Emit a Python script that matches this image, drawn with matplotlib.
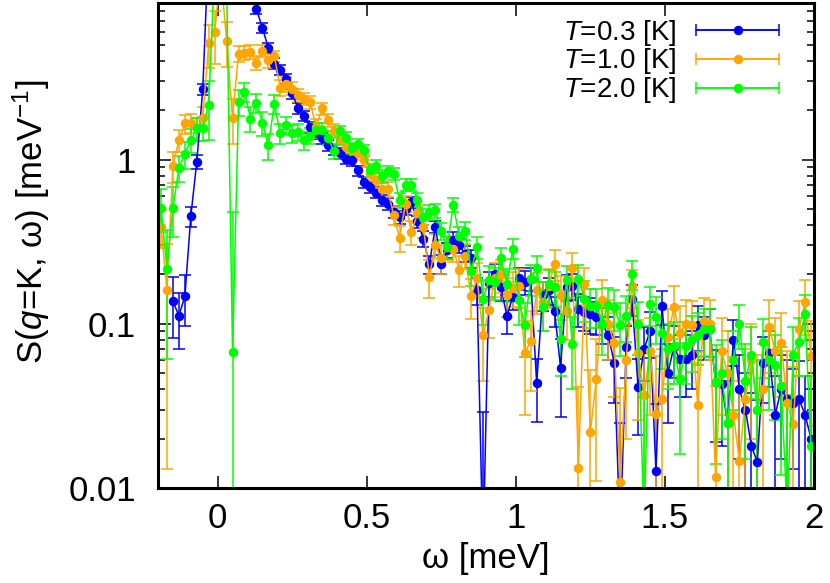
import numpy as np
import matplotlib
matplotlib.use("Agg")
import matplotlib.pyplot as plt
from matplotlib.container import ErrorbarContainer
from matplotlib.legend_handler import HandlerErrorbar
from matplotlib.ticker import FixedLocator, FixedFormatter, LogLocator, NullFormatter

plt.rcParams["font.family"] = "Liberation Sans"
plt.rcParams["mathtext.fontset"] = "custom"
plt.rcParams["mathtext.rm"] = "Liberation Sans"
plt.rcParams["mathtext.it"] = "Liberation Sans:italic"

########################################################################
# Data: S(q=K, omega) on the frequency grid -0.19, -0.17, ..., 1.99 meV

omega = np.round(np.arange(-0.19, 2.0, 0.02), 2)

s_03 = [np.nan, np.nan, 0.137, 0.112, 0.147, 0.453, 0.97, 2.68, 21, 60,
        80, 60, 40, 28, 18, 13, 8.26, 6.35, 4.79, 3.85,
        3.54, 3.12, 2.53, 2.05, 1.84, 1.58, 1.45, 1.35, 1.22, 1.14,
        1.09, 1.01, 0.99, 0.86, 0.73, 0.68, 0.63, 0.565, 0.54, 0.48,
        0.447, 0.5, 0.55, 0.42, 0.33, 0.23, 0.39, 0.232, 0.28, 0.325,
        0.3, 0.267, 0.25, 0.16, 0.004, 0.176, 0.2, 0.167, 0.112, 0.146,
        0.19, 0.18, 0.188, 0.0433, 0.15, 0.16, 0.12, 0.054, 0.167, 0.17,
        0.123, 0.118, 0.115, 0.11, 0.1, 0.085, 0.058, 0.005, 0.072, 0.142,
        0.041, 0.07, 0.09, 0.0126, 0.129, 0.05, 0.072, 0.061, 0.061, 0.065,
        0.098, 0.085, 0.093, 0.044, 0.043, 0.025, 0.08, 0.04, 0.03, 0.018,
        0.0144, 0.058, 0.066, 0.028, 0.04, 0.035, 0.033, 0.0346, 0.028, 0.02]
e_03 = [np.nan, np.nan, 0.055, 0.042, 0.05, 0.065, 0.09, 0.22, 2, 5,
        6, 5, 4, 3, 2, 1.2, 0.6, 0.45, 0.35, 0.3,
        0.25, 0.22, 0.18, 0.15, 0.13, 0.12, 0.11, 0.1, 0.09, 0.08,
        0.08, 0.07, 0.07, 0.06, 0.055, 0.05, 0.05, 0.045, 0.045, 0.04,
        0.04, 0.04, 0.04, 0.035, 0.035, 0.03, 0.035, 0.03, 0.03, 0.035,
        0.03, 0.03, 0.03, 0.03, 0.025, 0.03, 0.03, 0.03, 0.025, 0.025,
        0.03, 0.03, 0.03, 0.018, 0.03, 0.03, 0.025, 0.027, 0.03, 0.03,
        0.028, 0.028, 0.028, 0.025, 0.025, 0.025, 0.025, 0.02, 0.025, 0.03,
        0.02, 0.025, 0.028, 0.02, 0.03, 0.025, 0.025, 0.025, 0.025, 0.025,
        0.03, 0.025, 0.03, 0.025, 0.025, 0.02, 0.025, 0.025, 0.02, 0.02,
        0.02, 0.025, 0.025, 0.02, 0.025, 0.025, 0.02, 0.025, 0.02, 0.02]

s_10 = [0.39, 0.16, 0.92, 1.31, 1.66, 1.67, 1.55, 1.8, 5.1, 5.95,
        14, 5.26, 1.8, 4.43, 4.49, 4.53, 3.9, 4.6, 4.03, 4.27,
        2.75, 2.9, 2.71, 2.46, 2.35, 2.24, 1.58, 2.05, 1.74, 1.5,
        1.34, 1.2, 1.15, 1.09, 0.99, 0.82, 0.75, 0.665, 0.665, 0.46,
        0.335, 0.54, 0.36, 0.47, 0.39, 0.194, 0.3, 0.25, 0.293, 0.287,
        0.213, 0.26, 0.147, 0.19, 0.085, 0.122, 0.19, 0.2, 0.15, 0.166,
        0.17, 0.066, 0.079, 0.16, 0.135, 0.17, 0.232, 0.15, 0.12, 0.22,
        0.0132, 0.175, 0.022, 0.046, 0.14, 0.1, 0.076, 0.0108, 0.06, 0.169,
        0.066, 0.0366, 0.068, 0.0284, 0.035, 0.083, 0.126, 0.088, 0.1, 0.098,
        0.032, 0.104, 0.1, 0.0116, 0.068, 0.05, 0.028, 0.0146, 0.035, 0.06,
        0.03, 0.04, 0.095, 0.068, 0.076, 0.033, 0.0244, 0.093, 0.135, 0.064]
e_10 = [0.1, 0.147, 0.2, 0.2, 0.22, 0.22, 0.25, 0.3, 1.5, 2.1,
        4, 1.6, 0.55, 0.5, 0.45, 0.45, 0.4, 0.4, 0.4, 0.35,
        0.3, 0.3, 0.25, 0.22, 0.2, 0.2, 0.18, 0.17, 0.15, 0.14,
        0.12, 0.11, 0.1, 0.1, 0.09, 0.08, 0.08, 0.07, 0.07, 0.06,
        0.06, 0.06, 0.06, 0.06, 0.055, 0.05, 0.05, 0.05, 0.05, 0.05,
        0.045, 0.045, 0.04, 0.045, 0.04, 0.04, 0.045, 0.045, 0.04, 0.04,
        0.045, 0.038, 0.04, 0.045, 0.045, 0.045, 0.05, 0.045, 0.04, 0.05,
        0.028, 0.045, 0.03, 0.035, 0.045, 0.04, 0.04, 0.03, 0.04, 0.045,
        0.04, 0.035, 0.04, 0.035, 0.035, 0.04, 0.045, 0.04, 0.04, 0.04,
        0.035, 0.04, 0.04, 0.03, 0.04, 0.04, 0.035, 0.03, 0.035, 0.04,
        0.035, 0.035, 0.045, 0.04, 0.04, 0.035, 0.03, 0.045, 0.05, 0.04]

s_20 = [0.51, 0.216, 0.51, 0.89, 1.08, 1.31, 1.55, 1.56, 2.16, 15,
        20, 12, 0.067, 2.24, 2.58, 1.78, 2.21, 1.68, 1.22, 2.18,
        1.45, 1.62, 1.45, 1.47, 1.31, 1.4, 1.51, 1.51, 1.36, 1.13,
        1.49, 1.36, 1.17, 1.24, 1.14, 0.86, 0.91, 0.79, 0.85, 0.82,
        0.57, 0.7, 0.7, 0.57, 0.447, 0.48, 0.49, 0.367, 0.293, 0.53,
        0.345, 0.37, 0.21, 0.293, 0.142, 0.184, 0.18, 0.25, 0.175, 0.287,
        0.139, 0.098, 0.188, 0.22, 0.126, 0.174, 0.167, 0.081, 0.184, 0.075,
        0.188, 0.142, 0.129, 0.129, 0.1, 0.131, 0.126, 0.099, 0.112, 0.2,
        0.1, 0.006, 0.132, 0.11, 0.088, 0.07, 0.073, 0.046, 0.073, 0.081,
        0.086, 0.093, 0.093, 0.044, 0.05, 0.025, 0.06, 0.1, 0.045, 0.065,
        0.03, 0.077, 0.06, 0.056, 0.042, 0.007, 0.065, 0.078, 0.114, 0.018]
e_20 = [0.15, 0.155, 0.17, 0.16, 0.2, 0.22, 0.25, 0.27, 0.85, 3,
        4, 3, 0.41, 0.4, 0.35, 0.3, 0.3, 0.28, 0.22, 0.28,
        0.2, 0.2, 0.18, 0.17, 0.16, 0.15, 0.15, 0.15, 0.14, 0.12,
        0.12, 0.11, 0.1, 0.1, 0.09, 0.08, 0.08, 0.07, 0.07, 0.07,
        0.06, 0.06, 0.06, 0.055, 0.05, 0.05, 0.05, 0.045, 0.045, 0.05,
        0.045, 0.045, 0.04, 0.045, 0.044, 0.04, 0.04, 0.04, 0.04, 0.04,
        0.04, 0.035, 0.04, 0.04, 0.035, 0.04, 0.04, 0.033, 0.04, 0.035,
        0.04, 0.04, 0.035, 0.035, 0.035, 0.035, 0.035, 0.035, 0.035, 0.04,
        0.035, 0.03, 0.035, 0.035, 0.035, 0.03, 0.03, 0.03, 0.03, 0.03,
        0.03, 0.03, 0.03, 0.03, 0.03, 0.025, 0.03, 0.03, 0.03, 0.03,
        0.03, 0.03, 0.03, 0.03, 0.03, 0.03, 0.03, 0.03, 0.035, 0.03]

labels = ["$T$=0.3 [K]", "$T$=1.0 [K]", "$T$=2.0 [K]"]
colors = ["#0000ff", "#ffa500", "#00ff00"]

x_ticks = [0, 0.5, 1, 1.5, 2]
x_ticklabels = ["0", "0.5", "1", "1.5", "2"]
y_ticks = [0.01, 0.1, 1]
y_ticklabels = ["0.01", "0.1", "1"]

########################################################################
# Plot

fig = plt.figure(figsize=(8.3, 5.83), dpi=100)
ax = fig.add_axes([0.1904, 0.1630, 0.7903, 0.8319])

style = dict(fmt="-o", lw=1.1, elinewidth=1.1, ms=5.8, capsize=4, capthick=1.1)

proxies = []
for s, e, c in zip([s_03, s_10, s_20], [e_03, e_10, e_20], colors):
    ax.errorbar(omega, s, yerr=e, color=c, **style)
    proxies.append(ax.errorbar([np.nan], [np.nan], xerr=[0.1], color=c, **style))

ax.set_yscale("log")
ax.set_xlim(-0.2, 2)
ax.set_ylim(0.01, 9)

ax.xaxis.set_major_locator(FixedLocator(x_ticks))
ax.xaxis.set_major_formatter(FixedFormatter(x_ticklabels))
ax.yaxis.set_major_locator(FixedLocator(y_ticks))
ax.yaxis.set_major_formatter(FixedFormatter(y_ticklabels))
ax.yaxis.set_minor_locator(LogLocator(base=10, subs=np.arange(2, 10)))
ax.yaxis.set_minor_formatter(NullFormatter())

ax.tick_params(which="both", direction="in", top=True, right=True, width=1.1, labelsize=25)
ax.tick_params(which="major", length=9)
ax.tick_params(which="minor", length=5)
ax.tick_params(axis="x", pad=10)
ax.tick_params(axis="y", pad=16)
for sp in ax.spines.values():
    sp.set_linewidth(2.2)

ax.set_xlabel("ω [meV]", fontsize=25)
ax.set_ylabel(r"S($q$=K, ω) [meV$^{-1}$]", fontsize=25)
ax.xaxis.set_label_coords(0.5, -0.112)
ax.yaxis.set_label_coords(-0.162, 0.55)

ax.legend(proxies, labels, loc="upper right", bbox_to_anchor=(0.947, 0.97),
          frameon=False, fontsize=20, markerfirst=False, handlelength=3.0,
          handletextpad=0.7, labelspacing=-0.04, borderpad=0, borderaxespad=0,
          handler_map={ErrorbarContainer: HandlerErrorbar(xerr_size=1.5, marker_pad=0)})

fig.savefig("out.png", dpi=100)
